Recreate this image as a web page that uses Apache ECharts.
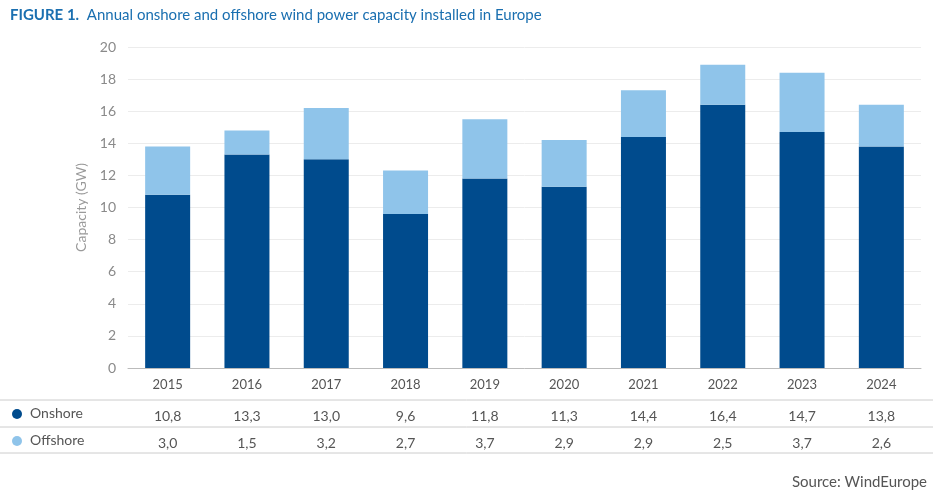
<!DOCTYPE html>
<html>
<head>
<meta charset="utf-8">
<script src="https://cdn.jsdelivr.net/npm/echarts@6/dist/echarts.min.js"></script>
</head>
<body style="margin:0;background:#fff;">
<div id="chart" style="width:933px;height:502px;"></div>
<script>
  var years = ['2015', '2016', '2017', '2018', '2019', '2020', '2021', '2022', '2023', '2024'];
  var onshore = [10.8, 13.3, 13.0, 9.6, 11.8, 11.3, 14.4, 16.4, 14.7, 13.8];
  var offshore = [3.0, 1.5, 3.2, 2.7, 3.7, 2.9, 2.9, 2.5, 3.7, 2.6];
  var yTicks = [0, 2, 4, 6, 8, 10, 12, 14, 16, 18, 20];

  var fmt = function (v) { return v.toFixed(1).replace('.', ','); };
  var gray = '#8a8a8a';
  var dark = '#004b8d';
  var light = '#8fc4ea';

  var myChart = echarts.init(document.getElementById('chart'));
  var tableAxis = function (vals, offset) {
    return {
      type: 'category', data: vals.map(fmt), position: 'bottom', offset: offset,
      gridIndex: 0, axisLine: {show: false}, axisTick: {show: false},
      axisLabel: {color: '#555', fontSize: 14, fontFamily: 'Lato'}
    };
  };
  option = {
    textStyle: {fontFamily: 'Lato'},
    title: {
      text: '{b|FIGURE 1.}  Annual onshore and offshore wind power capacity installed in Europe',
      left: 5, top: 3,
      textStyle: {
        color: '#1a6fb0', fontSize: 15, fontWeight: 'normal',
        rich: {b: {color: '#1a6fb0', fontWeight: 'bold', fontSize: 15}}
      }
    },
    grid: {left: 128, right: 12, top: 47, bottom: 134},
    xAxis: [
      {
        type: 'category', data: years,
        axisLine: {lineStyle: {color: '#bbb'}}, axisTick: {show: false},
        axisLabel: {color: '#555', fontSize: 13, margin: 10}
      },
      tableAxis(onshore, 33),
      tableAxis(offshore, 60)
    ],
    yAxis: {
      type: 'value', min: yTicks[0], max: yTicks[yTicks.length - 1], interval: 2,
      name: 'Capacity (GW)', nameLocation: 'middle', nameGap: 36,
      nameTextStyle: {color: '#9a9a9a', fontSize: 14},
      axisLabel: {color: gray, fontSize: 14, margin: 12},
      splitLine: {lineStyle: {color: '#ececec'}}
    },
    graphic: [
      {type: 'line', shape: {x1: 0, y1: 400, x2: 933, y2: 400}, style: {stroke: '#ccc'}},
      {type: 'line', shape: {x1: 0, y1: 427, x2: 933, y2: 427}, style: {stroke: '#ccc'}},
      {type: 'line', shape: {x1: 0, y1: 453, x2: 933, y2: 453}, style: {stroke: '#ccc'}},
      {type: 'circle', shape: {cx: 17, cy: 414, r: 5}, style: {fill: dark}},
      {type: 'circle', shape: {cx: 17, cy: 441, r: 5}, style: {fill: light}},
      {type: 'text', left: 30, top: 406, style: {text: 'Onshore', fill: '#555', font: '14px Lato'}},
      {type: 'text', left: 30, top: 433, style: {text: 'Offshore', fill: '#555', font: '14px Lato'}},
      {type: 'text', right: 6, top: 475, style: {text: 'Source: WindEurope', fill: '#555', font: '15px Lato'}}
    ],
    series: [
      {name: 'Onshore', type: 'bar', stack: 'c', data: onshore, barWidth: 45, itemStyle: {color: dark}},
      {name: 'Offshore', type: 'bar', stack: 'c', data: offshore, barWidth: 45, itemStyle: {color: light}}
    ]
  };
  myChart.setOption(option);
</script>
</body>
</html>
